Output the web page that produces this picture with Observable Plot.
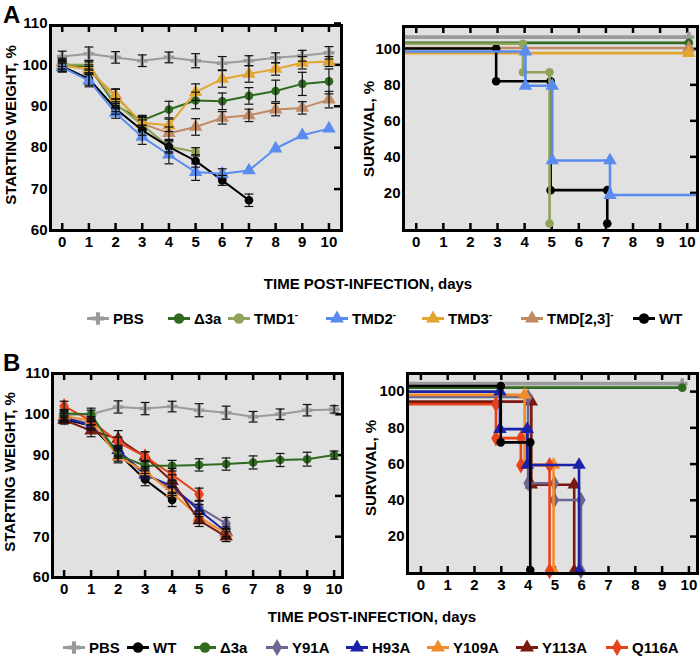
<!DOCTYPE html>
<html><head><meta charset="utf-8">
<script src="https://cdn.jsdelivr.net/npm/d3@7"></script>
<script src="https://cdn.jsdelivr.net/npm/@observablehq/plot@0.6"></script>
<style>
body{margin:0;background:#fff;}
#root{position:relative;width:700px;height:658px;font-family:"Liberation Sans",Arial,sans-serif;font-weight:bold;color:#000;overflow:hidden}
.panel{position:absolute}
.rot{position:absolute;transform:translate(-50%,-50%) rotate(-90deg);white-space:nowrap;font-size:15px}
.ttl{position:absolute;transform:translate(-50%,-50%);white-space:nowrap;font-size:15px}
.leg{position:absolute;display:flex;align-items:center;white-space:nowrap;font-size:15px;transform:translateY(-50%)}
.leg sup{font-size:10px;line-height:0;vertical-align:6px}
.big{position:absolute;font-size:24px;line-height:1.2}
</style></head><body><div id="root"></div>
<script>
// ---------------- DATA ----------------
const days = [0,1,2,3,4,5,6,7,8,9,10];
const weightTicks = [60,70,80,90,100,110];
const survivalTicks = [20,40,60,80,100];

// Panel A – body weight (% of starting weight), mean and error
const wA_PBS   = [102.0,102.7,101.8,101.0,101.8,101.0,100.4,101.0,101.7,102.2,102.9];
const eA_PBS   = [1.3,1.6,1.4,1.4,1.3,1.7,1.6,1.2,1.2,1.3,1.5];
const wA_D3a   = [99.8,99.7,90.2,86.6,89.2,91.4,91.2,92.5,93.7,95.4,96.0];
const eA_D3a   = [1.5,1.0,1.5,1.2,2.0,2.0,2.0,2.0,2.6,2.8,3.0];
const wA_TMD1  = [100.0,100.0,90.6,85.5,80.2,79.0];
const eA_TMD1  = [1.0,1.0,1.2,1.2,1.2,1.0];
const wA_TMD2  = [99.4,96.2,88.4,82.6,78.3,74.1,73.7,74.5,79.8,83.0,84.6];
const eA_TMD2  = [1.0,1.5,1.3,1.8,2.2,2.0,1.2,0,0,0,0];
const wA_TMD3  = [99.8,99.0,92.2,86.0,85.4,93.4,96.6,97.8,99.0,100.5,100.8];
const eA_TMD3  = [1.0,1.0,2.0,1.5,1.5,2.0,2.0,2.0,1.5,1.5,1.2];
const wA_TMD23 = [100.6,98.6,92.6,85.8,83.5,85.0,87.2,87.8,89.2,89.6,91.6];
const eA_TMD23 = [1.0,1.0,1.5,1.5,1.5,2.0,1.5,1.5,1.5,1.5,2.0];
const wA_WT    = [99.6,96.6,89.4,84.2,80.2,76.8,72.1,67.3];
const eA_WT    = [1.3,1.5,1.3,1.2,1.5,1.5,1.2,1.5];

// Panel A – survival (%), step times (days) and values
const tA_PBS = [-0.47,10.06],            sA_PBS = [106.5,106.5];
const tA_D3a = [-0.47,10.06],            sA_D3a = [103.3,103.3];
const tA_TMD1 = [-0.47,3.94,4.92],       sA_TMD1 = [102.8,87,3];
const tA_TMD2 = [-0.47,4.03,5.02,7.15,10.38], sA_TMD2 = [98.5,79.5,38,18.8,18.8];
const tA_TMD3 = [-0.47,10.06],           sA_TMD3 = [97.6,97.6];
const tA_TMD23 = [-0.47,10.06],          sA_TMD23 = [100.5,100.5];
const tA_WT = [-0.47,2.95,4.96,7.05],    sA_WT = [100.2,82,21.5,3];

// Panel B – body weight
const wB_PBS   = [99.8,100.0,101.8,101.4,101.9,101.0,100.4,99.4,100.0,101.0,101.2];
const eB_PBS   = [1.2,1.5,1.5,1.5,1.3,1.6,1.6,1.3,1.3,1.4,0.9];
const wB_WT    = [98.8,97.2,90.4,84.0,79.0];
const eB_WT    = [0.8,1.0,1.2,1.5,1.6];
const wB_D3a   = [100.2,100.0,90.0,87.4,87.4,87.6,87.8,88.2,88.8,89.0,90.0];
const eB_D3a   = [1.0,1.0,1.5,1.3,1.3,1.5,1.5,1.6,1.6,1.7,1.0];
const wB_Y91A  = [99.2,97.6,90.8,85.6,81.6,77.2,73.2];
const eB_Y91A  = [1.0,1.0,1.2,1.2,1.5,1.5,1.5];
const wB_H93A  = [99.2,97.2,91.2,85.2,82.4,76.4,71.2];
const eB_H93A  = [1.0,1.0,1.2,1.2,1.5,1.5,1.2];
const wB_Y109A = [99.6,98.4,89.6,86.0,80.8,74.8,70.8];
const eB_Y109A = [1.0,1.0,1.5,1.2,1.5,1.5,1.2];
const wB_Y113A = [98.6,96.0,94.0,89.6,83.6,74.0,70.0];
const eB_Y113A = [1.0,1.5,2.0,1.2,1.6,1.5,1.2];
const wB_Q116A = [102.0,98.4,93.2,89.6,85.2,80.4];
const eB_Q116A = [1.2,1.0,1.2,1.2,1.5,1.5];

// Panel B – survival
const tB_PBS = [-0.5,9.75],                sB_PBS = [104.4,104.4];
const tB_WT = [-0.5,2.98,4.08],            sB_WT = [103.1,72,1.5];
const tB_D3a = [-0.5,9.75],                sB_D3a = [102.2,102.2];
const tB_Y91A = [-0.5,4.0,4.98,5.97],      sB_Y91A = [97,49.4,40.2,1];
const tB_H93A = [-0.5,2.95,3.97,5.9],      sB_H93A = [100,79.3,59.5,1];
const tB_Y109A = [-0.5,3.87,4.95],         sB_Y109A = [98.2,59.6,1];
const tB_Y113A = [-0.5,4.12,5.72],         sB_Y113A = [94.5,48.6,1];
const tB_Q116A = [-0.5,2.8,3.73,4.8],      sB_Q116A = [93,74.3,59.4,1];

// Series names, colours, symbols
const namesA   = ["PBS","Δ3a","TMD1⁻","TMD2⁻","TMD3⁻","TMD[2,3]⁻","WT"];
const colorsA  = ["#9b9b9b","#2f6a1f","#8fa45a","#5a8cf0","#e2a630","#c08a64","#000000"];
const symbolsA = ["cross","circle","circle","triangle","triangle","triangle","circle"];
const namesB   = ["PBS","WT","Δ3a","Y91A","H93A","Y109A","Y113A","Q116A"];
const colorsB  = ["#9b9b9b","#000000","#2f6a1f","#6e6590","#1a23a8","#f08c2a","#7a1a0e","#e8421a"];
const symbolsB = ["cross","circle","circle","diamond","triangle","triangle","triangle","diamond"];

// ---------------- BUILD ----------------
const seriesA = namesA.map((name,i)=>({name,color:colorsA[i],symbol:symbolsA[i],
  w:[wA_PBS,wA_D3a,wA_TMD1,wA_TMD2,wA_TMD3,wA_TMD23,wA_WT][i],
  e:[eA_PBS,eA_D3a,eA_TMD1,eA_TMD2,eA_TMD3,eA_TMD23,eA_WT][i],
  st:[tA_PBS,tA_D3a,tA_TMD1,tA_TMD2,tA_TMD3,tA_TMD23,tA_WT][i],
  ss:[sA_PBS,sA_D3a,sA_TMD1,sA_TMD2,sA_TMD3,sA_TMD23,sA_WT][i]}));
const seriesB = namesB.map((name,i)=>({name,color:colorsB[i],symbol:symbolsB[i],
  w:[wB_PBS,wB_WT,wB_D3a,wB_Y91A,wB_H93A,wB_Y109A,wB_Y113A,wB_Q116A][i],
  e:[eB_PBS,eB_WT,eB_D3a,eB_Y91A,eB_H93A,eB_Y109A,eB_Y113A,eB_Q116A][i],
  st:[tB_PBS,tB_WT,tB_D3a,tB_Y91A,tB_H93A,tB_Y109A,tB_Y113A,tB_Q116A][i],
  ss:[sB_PBS,sB_WT,sB_D3a,sB_Y91A,sB_H93A,sB_Y109A,sB_Y113A,sB_Q116A][i]}));

const FONT = "Liberation Sans, Arial, sans-serif";
const BG = "#e1e1e1";
const rFor = s => s === "triangle" ? 5 : s === "diamond" ? 5 : s === "cross" ? 4.5 : 4.3;
const cap = { draw(ctx, size) { const w = Math.sqrt(size); ctx.moveTo(-w,0); ctx.lineTo(w,0); } };

function baseMarks(fw, fh, yTicks) {
  return [
    Plot.frame({fill: BG, stroke: "none"}),
    Plot.ruleX(days, {x: d => d, insetTop: fh - 7, stroke: "#000", strokeWidth: 2.5}),
    Plot.ruleX(days, {x: d => d, insetBottom: fh - 7, stroke: "#000", strokeWidth: 2.5}),
    Plot.ruleY(yTicks, {y: d => d, insetLeft: fw - 7, stroke: "#000", strokeWidth: 2.5})
  ];
}
function axes(yTicks) {
  return [
    Plot.frame({stroke: "#000", strokeWidth: 3}),
    Plot.axisX({ticks: days, tickSize: 0, tickPadding: 6, label: null, tickFormat: d => String(d)}),
    Plot.axisY({ticks: yTicks, tickSize: 0, tickPadding: 3, label: null})
  ];
}

function weightPlot(list, order, L) {
  const fw = L.width - L.ml - L.mr, fh = L.height - L.mt - L.mb;
  const marks = baseMarks(fw, fh, weightTicks);
  const errs = [];
  for (const k of order) {
    const s = list[k];
    const pts = s.w.map((v,i)=>({day: days[i], v}));
    marks.push(Plot.line(pts, {x:"day", y:"v", stroke:s.color, strokeWidth:2}));
    marks.push(Plot.dot(pts, {x:"day", y:"v", symbol:s.symbol, fill:s.color, stroke:"none", r:rFor(s.symbol)}));
    s.w.forEach((v,i)=>{ if (s.e[i] > 0) errs.push({day: days[i], lo: v - s.e[i], hi: v + s.e[i]}); });
  }
  marks.push(Plot.ruleX(errs, {x:"day", y1:"lo", y2:"hi", stroke:"#111", strokeWidth:1.2}));
  marks.push(Plot.dot(errs, {x:"day", y:"lo", symbol:cap, r:2.5, stroke:"#111", strokeWidth:1.2, fill:"none"}));
  marks.push(Plot.dot(errs, {x:"day", y:"hi", symbol:cap, r:2.5, stroke:"#111", strokeWidth:1.2, fill:"none"}));
  marks.push(...axes(weightTicks));
  return Plot.plot({
    width:L.width, height:L.height, marginLeft:L.ml, marginRight:L.mr, marginTop:L.mt, marginBottom:L.mb,
    x:{domain:L.xd, axis:null}, y:{domain:L.yd, axis:null},
    style:{background:"none", fontFamily:FONT, fontSize:"15px", fontWeight:"bold", color:"#000", overflow:"visible"},
    marks
  });
}

function survivalPlot(list, order, L) {
  const fw = L.width - L.ml - L.mr, fh = L.height - L.mt - L.mb;
  const marks = baseMarks(fw, fh, survivalTicks);
  for (const k of order) {
    const s = list[k];
    const pts = s.st.map((t,i)=>({t, v: s.ss[i]}));
    marks.push(Plot.line(pts, {x:"t", y:"v", curve:"step-after", stroke:s.color, strokeWidth: s.name === "PBS" ? 3.6 : 2.6}));
    const ev = [];
    for (let i = 1; i < s.st.length; i++) {
      if (s.ss[i] !== s.ss[i-1]) { ev.push({t:s.st[i], v:s.ss[i-1]}); ev.push({t:s.st[i], v:s.ss[i]}); }
    }
    if (!ev.length) ev.push(pts[pts.length-1]);
    marks.push(Plot.dot(ev, {x:"t", y:"v", symbol:s.symbol, fill:s.color, stroke:"none", r:rFor(s.symbol)}));
  }
  marks.push(...axes(survivalTicks));
  return Plot.plot({
    width:L.width, height:L.height, marginLeft:L.ml, marginRight:L.mr, marginTop:L.mt, marginBottom:L.mb,
    x:{domain:L.xd, axis:null}, y:{domain:L.yd, axis:null},
    style:{background:"none", fontFamily:FONT, fontSize:"15px", fontWeight:"bold", color:"#000", overflow:"visible"},
    marks
  });
}

const root = document.getElementById("root");
function place(node, left, top) {
  const d = document.createElement("div"); d.className = "panel";
  d.style.left = left + "px"; d.style.top = top + "px";
  d.append(node); root.append(d);
}
function text(cls, html, x, y) {
  const d = document.createElement("div"); d.className = cls; d.innerHTML = html;
  d.style.left = x + "px"; d.style.top = y + "px";
  root.append(d);
}

// Panel A
place(weightPlot(seriesA, [0,5,1,2,4,6,3],
  {width:350, height:258, ml:50, mr:9, mt:25, mb:28, xd:[-0.44,10.47], yd:[60,109.5]}), 0, 0);
place(survivalPlot(seriesA, [0,1,5,4,6,2,3],
  {width:350, height:258, ml:53, mr:3, mt:26, mb:28, xd:[-0.47,10.38], yd:[-0.9,112.4]}), 350, 0);
// Panel B
place(weightPlot(seriesB, [0,1,3,4,5,6,7,2],
  {width:350, height:259, ml:52, mr:8, mt:27, mb:28, xd:[-0.43,10.31], yd:[60,110]}), 0, 346);
place(survivalPlot(seriesB, [0,2,6,3,5,7,4,1],
  {width:350, height:255, ml:57, mr:3, mt:27, mb:28, xd:[-0.5,10.32], yd:[-0.4,110]}), 350, 346);

// Labels
text("big", "A", 3, 1);
text("big", "B", 3, 349);
text("rot", "STARTING WEIGHT, %", 10, 125);
text("rot", "SURVIVAL, %", 368, 129);
text("rot", "STARTING WEIGHT, %", 9, 472);
text("rot", "SURVIVAL, %", 370, 468);
text("ttl", "TIME POST-INFECTION, days", 368, 283);
text("ttl", "TIME POST-INFECTION, days", 372, 616);

// Legends
const d3Sym = {circle:d3.symbolCircle, triangle:d3.symbolTriangle, cross:d3.symbolCross, diamond:d3.symbolDiamond};
function legend(list, lefts, cy) {
  list.forEach((s,i)=>{
    const div = document.createElement("div"); div.className = "leg";
    div.style.left = lefts[i] + "px"; div.style.top = cy + "px";
    const svg = d3.create("svg").attr("width",22).attr("height",16).style("overflow","visible");
    svg.append("line").attr("x1",0).attr("x2",22).attr("y1",8).attr("y2",8).attr("stroke",s.color).attr("stroke-width",3);
    svg.append("path").attr("transform","translate(11,8)").attr("d", d3.symbol(d3Sym[s.symbol], 85)()).attr("fill", s.color);
    div.append(svg.node());
    const span = document.createElement("span"); span.style.marginLeft = "4px";
    span.innerHTML = s.name.replace("⁻", "<sup>-</sup>");
    div.append(span);
    root.append(div);
  });
}
legend(seriesA, [87,168,228,326,422,521,633], 318);
legend(seriesB, [63,127,194,266,346,427,516,606], 647);
</script></body></html>
